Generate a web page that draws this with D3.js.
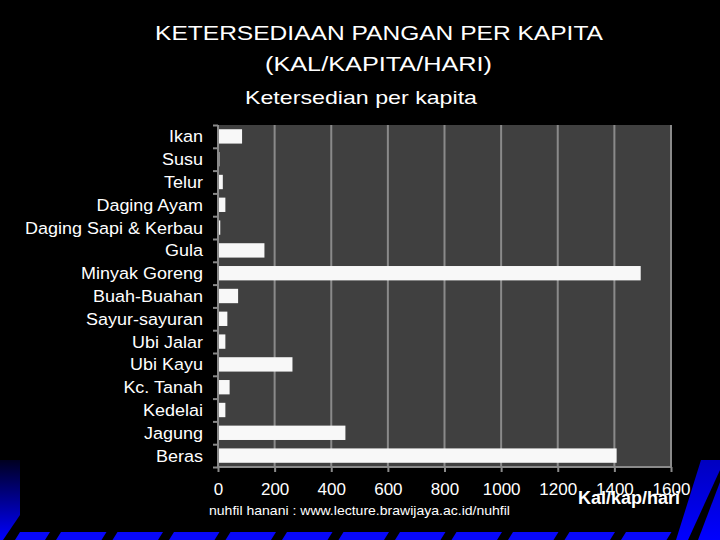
<!DOCTYPE html>
<html><head><meta charset="utf-8">
<script src="https://cdn.jsdelivr.net/npm/d3@7"></script>
<style>body{margin:0;background:#000}svg{display:block}text{font-family:"Liberation Sans",Arial,sans-serif;fill:#fff}</style>
</head><body>
<script>
const categories = ["Ikan","Susu","Telur","Daging Ayam","Daging Sapi & Kerbau","Gula","Minyak Goreng","Buah-Buahan","Sayur-sayuran","Ubi Jalar","Ubi Kayu","Kc. Tanah","Kedelai","Jagung","Beras"];
const values = [85, 5, 17, 26, 8, 164, 1493, 71, 33, 26, 263, 41, 26, 450, 1408];
const xTicks = [0,200,400,600,800,1000,1200,1400,1600];
const titleLines = ["KETERSEDIAAN PANGAN PER KAPITA","(KAL/KAPITA/HARI)"];
const subtitle = "Ketersedian per kapita";
const xLabel = "Kal/kap/hari";
const credit = "nuhfil hanani : www.lecture.brawijaya.ac.id/nuhfil";

const W=720,H=540;
const svg=d3.select("body").append("svg").attr("width",W).attr("height",H);
svg.append("rect").attr("width",W).attr("height",H).attr("fill","#000");

// decorations
const defs=svg.append("defs");
const lg=defs.append("linearGradient").attr("id","lg").attr("x1",0).attr("y1",0).attr("x2",0).attr("y2",1);
lg.append("stop").attr("offset","0%").attr("stop-color","#000020");
lg.append("stop").attr("offset","100%").attr("stop-color","#0000ff");
svg.append("polygon").attr("points","0,460 20,460 20,515 3,540 0,540").attr("fill","url(#lg)");
const strip=svg.append("g");
for(let k=0;k<12;k++){
  const g=55.5+56.5*k;
  const x0=g+5.5, x1=g+56.5-5.5;
  strip.append("polygon").attr("points",`${x0},532 ${Math.min(x1,700)},532 ${Math.min(x1,700)-5},540 ${x0-5},540`).attr("fill","#0808f8");
}
strip.append("polygon").attr("points","20,532 50,532 45,540 15,540").attr("fill","#0808f8");
const rg=defs.append("linearGradient").attr("id","rg").attr("x1",0).attr("y1",0).attr("x2",0).attr("y2",1);
rg.append("stop").attr("offset","0%").attr("stop-color","#0000c0");
rg.append("stop").attr("offset","100%").attr("stop-color","#0000ff");
svg.append("polygon").attr("points","701,460 720,460 720,540 676,540").attr("fill","url(#rg)");
svg.append("polygon").attr("points","720,470 720,482 698,540 688,540").attr("fill","#000");

// titles
svg.append("text").attr("x",379).attr("y",40).attr("text-anchor","middle").attr("font-size",21)
  .attr("textLength",448).attr("lengthAdjust","spacingAndGlyphs").text(titleLines[0]);
svg.append("text").attr("x",378.5).attr("y",71).attr("text-anchor","middle").attr("font-size",21)
  .attr("textLength",227).attr("lengthAdjust","spacingAndGlyphs").text(titleLines[1]);
svg.append("text").attr("x",361).attr("y",104).attr("text-anchor","middle").attr("font-size",19)
  .attr("textLength",232).attr("lengthAdjust","spacingAndGlyphs").text(subtitle);

const L=218,R=671,T=125,B=467;
const x=d3.scaleLinear().domain([0,1600]).range([L,R]);
const y=d3.scaleBand().domain(categories).range([T,B]).paddingInner(0.37).paddingOuter(0.185);
const yb=d3.scaleLinear().domain([0,categories.length]).range([T,B]);

svg.append("rect").attr("x",L).attr("y",T).attr("width",R-L).attr("height",B-T).attr("fill","#404040");
svg.append("g").selectAll("line").data(xTicks.slice(1)).join("line")
  .attr("x1",d=>x(d)).attr("x2",d=>x(d)).attr("y1",T).attr("y2",B)
  .attr("stroke","#8a8a8a").attr("stroke-width",2);

svg.append("g").selectAll("rect").data(values).join("rect")
  .attr("x",x(0)).attr("y",(d,i)=>y(categories[i])).attr("height",y.bandwidth())
  .attr("width",d=>x(d)-x(0)).attr("fill","#f8f8f8");

// y axis
const ya=svg.append("g").attr("transform",`translate(${L},0)`)
  .call(d3.axisLeft(yb).tickValues(d3.range(0,categories.length+1)).tickSize(5).tickFormat(""));
ya.selectAll("line,path").attr("stroke","#8a8a8a").attr("stroke-width",2);
ya.select("path").attr("d",`M0,${T}V${B}`);
svg.append("g").attr("transform","translate(203,0) scale(1.09,1)")
  .selectAll("text").data(categories).join("text")
  .attr("x",0).attr("y",d=>y(d)+y.bandwidth()/2+6).attr("text-anchor","end").attr("font-size",16.5).text(d=>d);

// x axis
const xa=svg.append("g").attr("transform",`translate(0,${B})`)
  .call(d3.axisBottom(x).tickValues(xTicks).tickSize(5).tickPadding(11).tickFormat(d3.format("d")));
xa.selectAll("line").attr("stroke","#8a8a8a").attr("stroke-width",2);
xa.select("path").attr("d",`M${L},0H${R}`).attr("stroke","#8a8a8a").attr("stroke-width",2);
xa.selectAll("text").attr("font-size",17).attr("fill","#fff").attr("font-family","Liberation Sans, Arial, sans-serif");

svg.append("text").attr("x",629).attr("y",504).attr("text-anchor","middle").attr("font-size",18).attr("font-weight","bold").text(xLabel);
svg.append("text").attr("x",209).attr("y",515).attr("font-size",13)
  .attr("textLength",301).attr("lengthAdjust","spacingAndGlyphs").text(credit);
</script>
</body></html>
